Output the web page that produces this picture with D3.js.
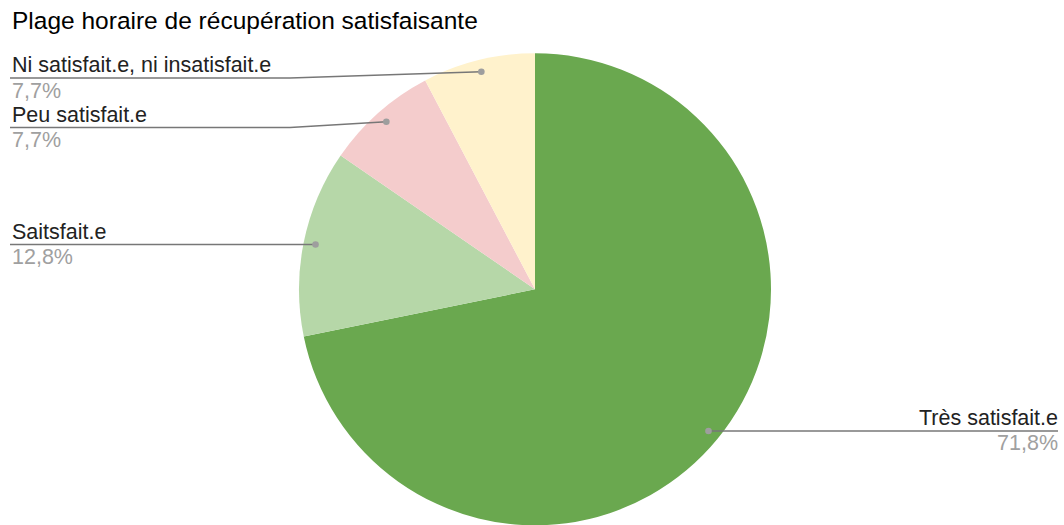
<!DOCTYPE html>
<html>
<head>
<meta charset="utf-8">
<script src="https://cdn.jsdelivr.net/npm/d3@7"></script>
<style>
  html, body { margin: 0; padding: 0; background: #fff; }
  svg { display: block; font-family: "Liberation Sans", Arial, sans-serif; }
</style>
</head>
<body>
<svg id="chart" width="1064" height="525"></svg>
<script>
// Survey answers, in drawing order (clockwise from 12 o'clock)
const categories = ["Très satisfait.e", "Saitsfait.e", "Peu satisfait.e", "Ni satisfait.e, ni insatisfait.e"];
const percentages = [71.8, 12.8, 7.7, 7.7];
const percentLabels = ["71,8%", "12,8%", "7,7%", "7,7%"];
const sliceColors = ["#6aa84f", "#b6d7a8", "#f4cccc", "#fff2cc"];
const title = "Plage horaire de récupération satisfaisante";

const width = 1064, height = 525;
const cx = 535, cy = 289.3, radius = 236;
const anchorRadius = 224;

const svg = d3.select("#chart");

svg.append("text")
  .attr("x", 12).attr("y", 29)
  .attr("font-size", 24.5)
  .attr("fill", "#000")
  .text(title);

const data = categories.map((c, i) => ({ name: c, value: percentages[i], pct: percentLabels[i], color: sliceColors[i] }));

const pie = d3.pie().sort(null).value(d => d.value);
const arcs = pie(data);
const arc = d3.arc().innerRadius(0).outerRadius(radius);

const g = svg.append("g").attr("transform", `translate(${cx},${cy})`);
g.selectAll("path.slice")
  .data(arcs)
  .join("path")
  .attr("class", "slice")
  .attr("d", arc)
  .attr("fill", d => d.data.color);

// Label anchors on each slice's mid-angle
arcs.forEach(a => {
  const mid = (a.startAngle + a.endAngle) / 2;
  a.ax = cx + anchorRadius * Math.sin(mid);
  a.ay = cy - anchorRadius * Math.cos(mid);
  a.side = Math.sin(mid) < 0 ? "left" : "right";
});

// Stack labels on each side so they don't overlap
const blockGap = 49.5, minTop = 78;
["left", "right"].forEach(side => {
  const items = arcs.filter(a => a.side === side).sort((p, q) => p.ay - q.ay);
  let prev = -Infinity;
  items.forEach(a => {
    a.ly = Math.max(a.ay, prev + blockGap, minTop);
    prev = a.ly;
  });
});

const kinkX = 290, leftEdge = 10, rightEdge = 1058;
const labels = svg.append("g");

arcs.forEach(a => {
  let pts;
  if (a.side === "left") {
    pts = [[leftEdge, a.ly], [kinkX, a.ly], [a.ax, a.ay]];
  } else {
    pts = [[rightEdge, a.ly], [width - kinkX, a.ly], [a.ax, a.ay]];
  }
  labels.append("path")
    .attr("d", d3.line()(pts))
    .attr("fill", "none")
    .attr("stroke", "#777")
    .attr("stroke-width", 1.4);
  labels.append("circle")
    .attr("cx", a.ax).attr("cy", a.ay).attr("r", 3.3)
    .attr("fill", "#9e9e9e");

  const tx = a.side === "left" ? 12 : rightEdge;
  const anchor = a.side === "left" ? "start" : "end";
  labels.append("text")
    .attr("x", tx).attr("y", a.ly - 6)
    .attr("text-anchor", anchor)
    .attr("font-size", 21.5)
    .attr("fill", "#222")
    .text(a.data.name);
  labels.append("text")
    .attr("x", tx).attr("y", a.ly + 19.5)
    .attr("text-anchor", anchor)
    .attr("font-size", 21.5)
    .attr("fill", "#a0a0a0")
    .text(a.data.pct);
});
</script>
</body>
</html>
